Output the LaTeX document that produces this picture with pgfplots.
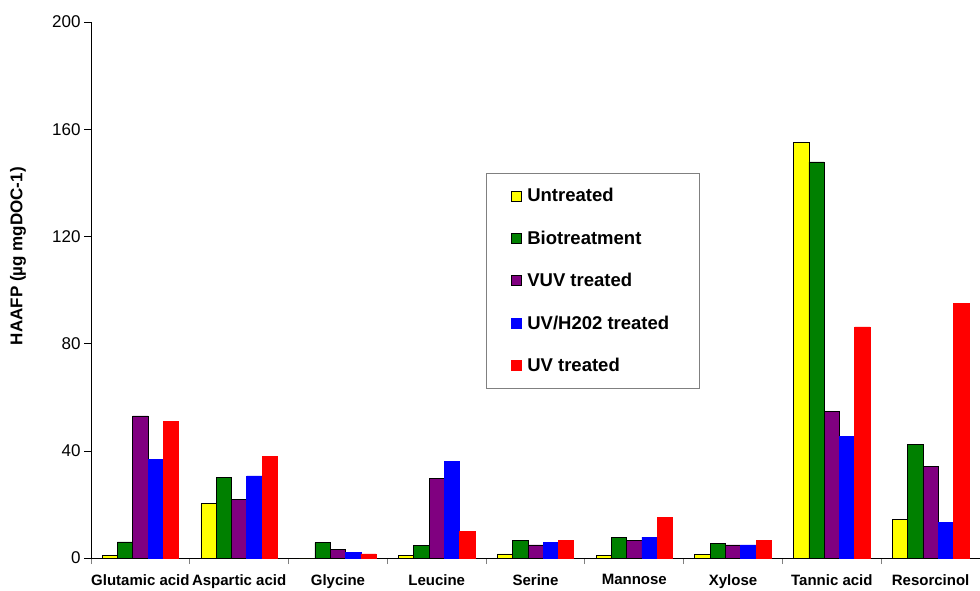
\documentclass[border=0pt]{standalone}
\usepackage{fontspec}
\setmainfont{Liberation Sans}
\usepackage{pgfplots}
\usepackage{pgfplotstable}
\pgfplotsset{compat=1.18}
\definecolor{cyellow}{RGB}{255,255,0}
\definecolor{cgreen}{RGB}{0,128,0}
\definecolor{cpurple}{RGB}{128,0,128}
\definecolor{cblue}{RGB}{0,0,255}
\definecolor{cred}{RGB}{255,0,0}
\pgfplotstableread{
x u b v h r
0 1.0 6.0 53.0 36.8 51.0
1 20.3 30.1 21.9 30.6 37.8
2 0 5.7 3.2 2.0 1.5
3 1.0 4.6 29.7 35.9 9.8
4 1.5 6.7 4.9 5.7 6.7
5 1.1 7.8 6.7 7.8 15.2
6 1.4 5.5 4.9 4.9 6.7
7 155.1 147.8 54.6 45.5 86.2
8 14.4 42.3 34.1 13.2 95.1
}\datatable
\pgfplotsset{sq/.style={legend image code/.code={\draw[##1] (0pt,-5pt) rectangle (10pt,5pt);}}}
\begin{document}
\begin{tikzpicture}
\begin{axis}[
  at={(91pt,32pt)}, anchor=south west,
  scale only axis, width=889pt, height=536pt,
  xmin=-0.5, xmax=8.5, ymin=0, ymax=200,
  ybar=0pt, bar width=15.3pt,
  axis x line*=bottom, axis y line*=left,
  axis line style={-, line width=0.9pt, black},
  xtick={0,...,8},
  xticklabels={Glutamic acid, Aspartic acid, Glycine, Leucine, Serine, Mannose, Xylose, Tannic acid, Resorcinol},
  major x tick style={draw=none},
  minor xtick={-0.5,0.5,...,8.5},
  minor x tick style={gray, line width=0.8pt},
  minor tick length=6pt,
  ytick={0,40,...,200}, major tick length=7pt, tick align=outside,
  y tick style={black, line width=0.6pt},
  xticklabel style={font=\fontsize{15}{18}\selectfont\bfseries, yshift=-6pt},
  yticklabel style={font=\fontsize{17}{20}\selectfont},
  /pgf/number format/assume math mode=true,
  ylabel={HAAFP (µg mgDOC-1)},
  ylabel style={font=\fontsize{17}{20}\selectfont\bfseries, at={(axis description cs:-0.082,0.563)}, anchor=center},
  legend style={at={(axis description cs:0.444,0.718)}, anchor=north west, draw=gray, line width=0.8pt, font=\fontsize{18.5}{22}\selectfont\bfseries, row sep=23.5pt, inner xsep=25pt, inner ysep=13pt, nodes={inner xsep=5.5pt}},
  legend cell align=left,
]
\addplot[sq, fill=cyellow, draw=black, line width=0.7pt] table[x=x,y=u]{\datatable};
\addplot[sq, fill=cgreen, draw=black, line width=0.7pt] table[x=x,y=b]{\datatable};
\addplot[sq, fill=cpurple, draw=black, line width=0.7pt] table[x=x,y=v]{\datatable};
\addplot[sq, fill=cblue, draw=cblue, line width=0.7pt] table[x=x,y=h]{\datatable};
\addplot[sq, fill=cred, draw=cred, line width=0.7pt] table[x=x,y=r]{\datatable};
\legend{Untreated, Biotreatment, VUV treated, UV/H202 treated, UV treated}
\end{axis}
\pgfresetboundingbox
\useasboundingbox (0,0) rectangle (980pt,590pt);
\end{tikzpicture}
\end{document}
